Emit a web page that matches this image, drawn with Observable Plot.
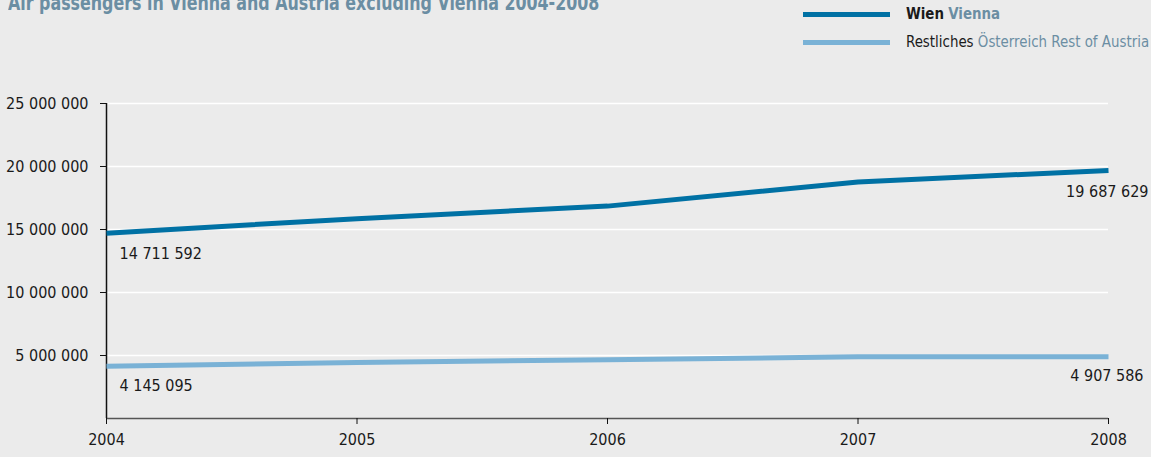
<!DOCTYPE html>
<html>
<head>
<meta charset="utf-8">
<script src="https://cdn.jsdelivr.net/npm/d3@7"></script>
<script src="https://cdn.jsdelivr.net/npm/@observablehq/plot@0.6"></script>
<style>
  html, body { margin: 0; padding: 0; background: #ebebeb; }
  body { width: 1151px; height: 457px; position: relative; overflow: hidden;
         font-family: "Liberation Sans Narrow", "DejaVu Sans Condensed", "Liberation Sans", sans-serif; }
  #title { position: absolute; left: 8px; top: -9px; font-size: 21px; font-weight: bold; color: #6b8ea3; white-space: nowrap;
           transform: scaleX(0.84); transform-origin: 0 0; }
  .leg { position: absolute; left: 803px; font-size: 16px; color: #1a1a1a; white-space: nowrap; }
  .leg .sw { position: absolute; left: 0; width: 87px; height: 5px; }
  .leg .lab { position: absolute; left: 103px; top: -10px; transform: scaleX(0.93); transform-origin: 0 0; }
  .leg .en { color: #6b8ea3; }
  #chart { position: absolute; left: 0; top: 0; }
</style>
</head>
<body>
<div id="title">Air passengers in Vienna and Austria excluding Vienna 2004-2008</div>
<div class="leg" style="top:14px"><div class="sw" style="top:-2px;background:#0071a4"></div><div class="lab"><b>Wien</b> <b class="en">Vienna</b></div></div>
<div class="leg" style="top:42px"><div class="sw" style="top:-2px;background:#7ab2d6"></div><div class="lab">Restliches <span class="en">Österreich Rest of Austria</span></div></div>
<div id="chart"></div>
<script>
const years = [2004, 2005, 2006, 2007, 2008];
const vienna = [14711592, 15859050, 16855725, 18768468, 19687629];
const restOfAustria = [4145095, 4450000, 4660000, 4900000, 4907586];
const yTicks = [5000000, 10000000, 15000000, 20000000, 25000000];
const seriesNames = ["Wien Vienna", "Restliches Österreich Rest of Austria"];
const seriesColors = ["#0071a4", "#7ab2d6"];

const fmt = v => d3.format(",")(v).replace(/,/g, " ");
const rows = [];
years.forEach((y, i) => rows.push({year: y, value: vienna[i], series: seriesNames[0]}));
years.forEach((y, i) => rows.push({year: y, value: restOfAustria[i], series: seriesNames[1]}));

const ends = [
  {year: years[0], value: vienna[0], anchor: "start", dx: 13, dy: 21},
  {year: years[4], value: vienna[4], anchor: "end", dx: 40, dy: 21},
  {year: years[0], value: restOfAustria[0], anchor: "start", dx: 13, dy: 20},
  {year: years[4], value: restOfAustria[4], anchor: "end", dx: 35, dy: 19}
];

const chart = Plot.plot({
  width: 1151,
  height: 457,
  marginLeft: 106,
  marginRight: 43,
  marginTop: 103,
  marginBottom: 39,
  style: {background: "transparent", fontFamily: "'Liberation Sans Narrow', 'DejaVu Sans Condensed', sans-serif", fontSize: "16px", color: "#1a1a1a"},
  x: {domain: [2004, 2008], ticks: years, tickFormat: d => String(d), tickSize: 6, tickPadding: 9, label: null},
  y: {domain: [0, 25000000], ticks: yTicks, tickFormat: fmt, tickSize: 6, tickPadding: 12, label: null},
  color: {domain: seriesNames, range: seriesColors},
  marks: [
    Plot.ruleY(yTicks, {stroke: "#ffffff", strokeWidth: 1.5}),
    Plot.ruleY([0], {stroke: "#555555", strokeWidth: 1.5}),
    Plot.ruleX([2004], {y1: 0, y2: 25000000, stroke: "#111111", strokeWidth: 1.5}),
    Plot.axisY({ticks: yTicks, tickFormat: fmt, tickSize: 6, tickPadding: 12, stroke: "#111", fill: "#1a1a1a", fontSize: 16}),
    Plot.axisX({ticks: years, tickFormat: d => String(d), tickSize: 6, tickPadding: 9, stroke: "#111", fill: "#1a1a1a", fontSize: 16}),
    Plot.line(rows, {x: "year", y: "value", z: "series", stroke: "series", strokeWidth: 5, strokeLinecap: "butt", strokeLinejoin: "round"}),
    ...ends.map(e => Plot.text([e], {x: "year", y: "value", text: d => fmt(d.value), textAnchor: e.anchor, dx: e.dx, dy: e.dy, fontSize: 16, fill: "#1a1a1a"}))
  ]
});
document.getElementById("chart").appendChild(chart);
</script>
</body>
</html>
